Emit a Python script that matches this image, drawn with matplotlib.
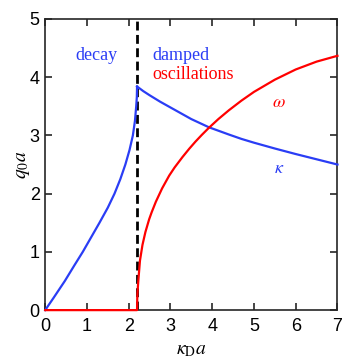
import matplotlib.pyplot as plt

plt.rcParams['mathtext.fontset'] = 'stix'

# kappa, decay branch (below threshold)
kd_decay = [0.0, 0.2, 0.47, 0.7, 0.90, 1.1, 1.30, 1.5, 1.66, 1.8, 1.92, 2.02,
            2.10, 2.15, 2.18, 2.195, 2.20]
q_decay = [0.0, 0.21, 0.5, 0.77, 1.0, 1.25, 1.5, 1.76, 2.0, 2.25, 2.5, 2.75,
           3.0, 3.25, 3.5, 3.66, 3.84]

# kappa, damped oscillation branch
kd_damp = [2.20, 2.35, 2.5, 2.75, 3.0, 3.25, 3.5, 3.92, 4.4, 4.7, 5.0, 5.5, 6.0, 6.5, 7.0]
kappa_damp = [3.84, 3.76, 3.69, 3.58, 3.48, 3.38, 3.28, 3.14, 3.015, 2.94, 2.875, 2.775,
              2.68, 2.59, 2.50]

# omega
kd_omega = [0.0, 2.20, 2.205, 2.21, 2.23, 2.27, 2.33, 2.40, 2.49, 2.55, 2.65, 2.8,
            2.97, 3.1, 3.29, 3.45, 3.60, 3.75, 3.92, 4.15, 4.40, 4.7, 5.0, 5.5, 6.0,
            6.5, 7.0]
omega = [0.0, 0.0, 0.2, 0.29, 0.50, 0.85, 1.12, 1.34, 1.56, 1.68, 1.86, 2.09,
         2.31, 2.45, 2.63, 2.771, 2.894, 3.008, 3.13, 3.282, 3.432, 3.597, 3.747,
         3.957, 4.132, 4.267, 4.367]

kd_crit = 2.20

fig = plt.figure(figsize=(3.53, 3.64), dpi=100)
ax = fig.add_axes([0.128, 0.148, 0.828, 0.8])

blue = '#2a3df5'
red = '#ff0000'
ax.plot(kd_decay, q_decay, color=blue, lw=1.6, clip_on=False, zorder=3)
ax.plot(kd_damp, kappa_damp, color=blue, lw=1.6, clip_on=False, zorder=3)
ax.plot(kd_omega, omega, color=red, lw=1.6, clip_on=False, zorder=4)
ax.axvline(kd_crit, color='black', lw=2.0, ls=(0, (3.2, 1.6)), zorder=2)

ax.set_xlim(0, 7)
ax.set_ylim(0, 5)
ax.set_xticks(range(0, 8))
ax.set_yticks(range(0, 6))

for sp in ax.spines.values():
    sp.set_linewidth(1.2)
    sp.set_color('#262626')
ax.tick_params(direction='in', top=True, right=True, length=5, width=1.2,
               color='#262626', labelsize=13)
ax.tick_params(axis='x', pad=6)
ax.tick_params(axis='y', pad=4)
for lab in ax.get_xticklabels() + ax.get_yticklabels():
    lab.set_fontfamily('Liberation Sans')

ax.set_xlabel(r'$\kappa_\mathrm{D}a$', fontsize=14, labelpad=3)
ax.set_ylabel(r'$q_0a$', fontsize=14, labelpad=-2)

ax.text(1.22, 4.37, 'decay', color=blue, fontsize=13, family='Liberation Serif',
        ha='center', va='center')
ax.text(2.57, 4.37, 'damped', color=blue, fontsize=13, family='Liberation Serif',
        ha='left', va='center')
ax.text(2.57, 4.05, 'oscillations', color=red, fontsize=13, family='Liberation Serif',
        ha='left', va='center')
ax.text(5.59, 3.57, r'$\omega$', color=red, fontsize=13, ha='center', va='center')
ax.text(5.61, 2.44, r'$\kappa$', color=blue, fontsize=13, ha='center', va='center')

fig.savefig('out.png', dpi=100)
